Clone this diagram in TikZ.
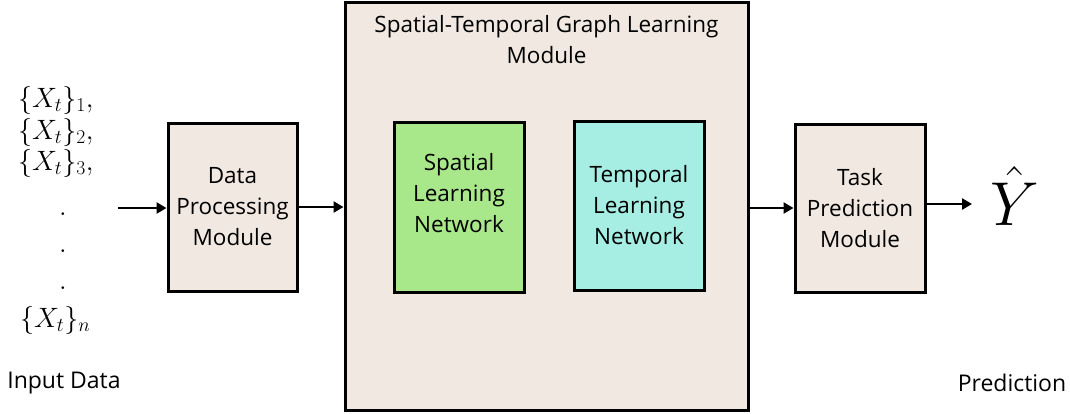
\RequirePackage{fix-cm}
\documentclass[tikz,border=0pt]{standalone}
\usepackage{fontspec}
\setmainfont{Open Sans}
\usepackage{amsmath}
\usetikzlibrary{arrows.meta}

\definecolor{boxfill}{RGB}{240,232,225}
\definecolor{spatialfill}{RGB}{168,232,138}
\definecolor{temporalfill}{RGB}{166,238,228}

\tikzset{
  block/.style={draw, line width=3pt, fill=boxfill, align=center, inner sep=0pt,
    font=\fontsize{22.5}{31}\selectfont},
  link/.style={-{Triangle[length=10pt,width=11pt]}, line width=2.5pt},
  label/.style={font=\fontsize{22.5}{31}\selectfont},
  series/.style={anchor=west, inner sep=0pt, font=\fontsize{28}{30}\selectfont}
}

\begin{document}
\begin{tikzpicture}[x=1pt, y=-1pt]
    \useasboundingbox (0,0) rectangle (1070,413);

    % input series
    \node[series] (x1) at (18,100) {$\{X_t\}_1,$};
    \node[series] (x2) at (18,132) {$\{X_t\}_2,$};
    \node[series] (x3) at (18,163) {$\{X_t\}_3,$};
    \node[series, anchor=center] (d1) at (63,214) {$.$};
    \node[series, anchor=center] (d2) at (63,251) {$.$};
    \node[series, anchor=center] (d3) at (63,288) {$.$};
    \node[series] (xn) at (20,320) {$\{X_t\}_n$};
    \node[label, font=\fontsize{23}{31}\selectfont] (inlabel) at (64,383) {Input Data};

    % modules
    \node[block, minimum width=129, minimum height=168] (dp) at (232.5,207) {Data\\Processing\\Module};
    \node[block, minimum width=403, minimum height=408] (stg) at (546.5,206) {};
    \node[label, align=center] (stgtitle) at (546.5,40) {Spatial-Temporal Graph Learning\\Module};
    \node[block, fill=spatialfill, minimum width=130, minimum height=170] (sln) at (459,207) {};
    \node[label, align=center] (slntext) at (459,193) {Spatial\\Learning\\Network};
    \node[block, fill=temporalfill, minimum width=130, minimum height=169] (tln) at (639,205.5) {Temporal\\Learning\\Network};
    \node[block, minimum width=130, minimum height=168] (task) at (860,208) {Task\\Prediction\\Module};

    % output
    \node[inner sep=0pt, font=\fontsize{62}{62}\selectfont] (yhat) at (1015,196) {$\hat{Y}$};
    \node[label, font=\fontsize{23}{31}\selectfont] (outlabel) at (1012,383) {Prediction};

    % arrows
    \coordinate (in) at (118,208);
    \coordinate (out) at (972,204);
    \draw[link] (in) -- (dp.west |- in);
    \draw[link] (dp.east) -- (stg.west |- dp.east);
    \draw[link] (stg.east |- task) -- (task.west);
    \draw[link] (task.east |- out) -- (out);
\end{tikzpicture}
\end{document}
